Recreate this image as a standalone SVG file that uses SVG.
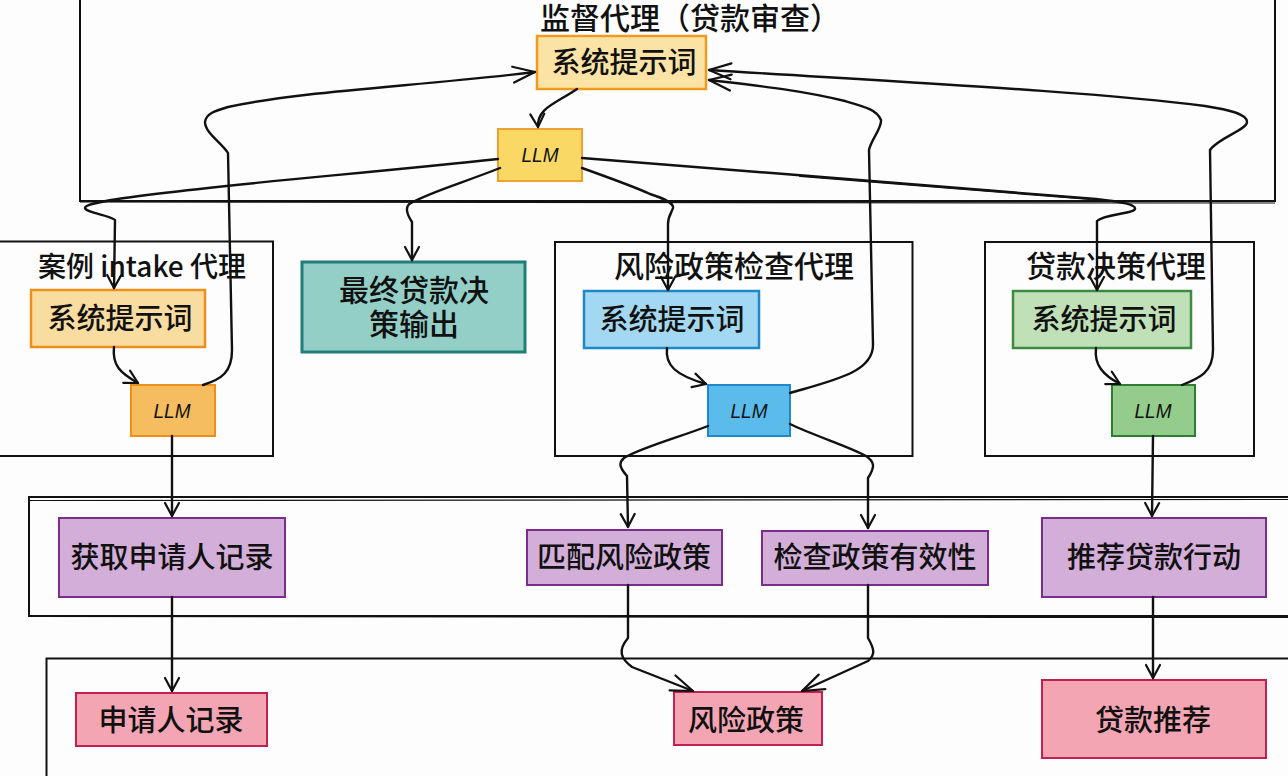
<svg xmlns="http://www.w3.org/2000/svg" width="1288" height="776" viewBox="0 0 1288 776">
<style>
text{font-family:"Noto Sans CJK SC","Noto Sans",sans-serif;fill:#111;text-anchor:middle;font-weight:500}
.t{font-size:29px}
.s{font-size:28px}
.h{font-size:30px}
.l{font-family:"Liberation Sans",sans-serif;font-size:21px;font-style:italic;font-weight:400}
.box{fill:none;stroke:#111;stroke-width:2}
.thin{fill:none;stroke:#111;stroke-width:1.2}
.c{fill:none;stroke:#111;stroke-width:2.4;stroke-linecap:round;stroke-linejoin:round;marker-end:url(#a)}
.w{marker-end:url(#b)}
.n{fill:none;stroke:#111;stroke-width:2;stroke-linecap:round;stroke-linejoin:round}
.tool{fill:#d2aed8;stroke:#7b2d8e;stroke-width:2}
.out{fill:#f3a5b4;stroke:#c2214f;stroke-width:2}
</style>
<defs>
<marker id="a" markerUnits="userSpaceOnUse" markerWidth="24" markerHeight="24" refX="17" refY="10" orient="auto"><path d="M4 3 L17 10 L4 17" fill="none" stroke="#111" stroke-width="2.200" stroke-linecap="round" stroke-linejoin="round"/></marker>
<marker id="b" markerUnits="userSpaceOnUse" markerWidth="32" markerHeight="24" refX="26" refY="10" orient="auto"><path d="M4 2 L26 10 L4 18" fill="none" stroke="#111" stroke-width="2.200" stroke-linecap="round" stroke-linejoin="round"/></marker>
</defs>
<rect width="1288" height="776" fill="#fdfdfd"/>
<g id="containers">
<path class="box" d="M80 -2 V201 H1275 V-2"/>
<path class="thin" d="M80 202 L1275 203"/>
<path class="box" d="M-2 241.500 H273 V456 H-2"/>
<path class="box" d="M555 456 V242 H912.500 V456 Z"/>
<path class="box" d="M985 456 V242 H1254 V456 Z"/>
<path class="box" d="M1290 497 H29 V616 H1290"/>
<path class="thin" d="M29 500.500 L1288 499.500"/>
<path class="thin" d="M29 616.500 L1288 617.500"/>
<path class="box" d="M46.500 776 V658.500 H1290"/>
</g>
<text class="h" x="690" y="29">监督代理（贷款审查）</text>
<g id="sup-prompt"><rect x="537" y="36" width="169" height="53" fill="#fbe3a5" stroke="#f09a1e" stroke-width="2.500"/><text class="t" x="624" y="73">系统提示词</text></g>
<g id="sup-llm"><rect x="498" y="129" width="84" height="52" fill="#f9d866" stroke="#f0a030" stroke-width="2"/><text class="l" x="540" y="162" textLength="37" lengthAdjust="spacingAndGlyphs">LLM</text></g>
<g id="case-agent"><text class="s" x="142" y="277">案例 intake 代理</text></g>
<g id="case-prompt"><rect x="31" y="290" width="174" height="57" fill="#f9dca0" stroke="#ef8f1a" stroke-width="2.500"/><text class="t" x="120" y="329">系统提示词</text></g>
<g id="case-llm"><rect x="131" y="385" width="84" height="51" fill="#f6bd60" stroke="#ef8f1a" stroke-width="2"/><text class="l" x="172" y="418" textLength="37" lengthAdjust="spacingAndGlyphs">LLM</text></g>
<g id="final"><rect x="302" y="262" width="223" height="90" fill="#93cfc7" stroke="#1f7f78" stroke-width="3"/><text class="h" x="414" y="301">最终贷款决</text><text class="h" x="414" y="335">策输出</text></g>
<g id="risk-agent"><text class="h" x="734" y="277">风险政策检查代理</text></g>
<g id="risk-prompt"><rect x="584" y="291" width="175" height="57" fill="#a3d8f2" stroke="#1e88c8" stroke-width="2.500"/><text class="t" x="672" y="330">系统提示词</text></g>
<g id="risk-llm"><rect x="708" y="385" width="82" height="51" fill="#5bbcec" stroke="#1e88c8" stroke-width="2"/><text class="l" x="749" y="418" textLength="37" lengthAdjust="spacingAndGlyphs">LLM</text></g>
<g id="decision-agent"><text class="h" x="1116" y="277">贷款决策代理</text></g>
<g id="decision-prompt"><rect x="1013" y="291" width="178" height="57" fill="#c0e0b8" stroke="#3d8b40" stroke-width="2.500"/><text class="t" x="1104" y="330">系统提示词</text></g>
<g id="decision-llm"><rect x="1112" y="385" width="83" height="51" fill="#94cc8c" stroke="#2e7d32" stroke-width="2"/><text class="l" x="1153" y="418" textLength="37" lengthAdjust="spacingAndGlyphs">LLM</text></g>
<g id="tool-fetch"><rect class="tool" x="59" y="518" width="226" height="79"/><text class="t" x="172" y="568">获取申请人记录</text></g>
<g id="tool-match"><rect class="tool" x="527" y="530" width="195" height="55"/><text class="t" x="624" y="568">匹配风险政策</text></g>
<g id="tool-check"><rect class="tool" x="762" y="531" width="226" height="54"/><text class="t" x="875" y="568">检查政策有效性</text></g>
<g id="tool-recommend"><rect class="tool" x="1042" y="518" width="224" height="79"/><text class="t" x="1154" y="568">推荐贷款行动</text></g>
<g id="out-applicant"><rect class="out" x="76" y="693" width="191" height="53"/><text class="t" x="171" y="731">申请人记录</text></g>
<g id="out-risk"><rect class="out" x="674" y="692" width="148" height="53"/><text class="t" x="746" y="731">风险政策</text></g>
<g id="out-loan"><rect class="out" x="1042" y="680" width="224" height="78"/><text class="t" x="1153" y="731">贷款推荐</text></g>
<g id="connectors">
<path class="c" d="M577 89 C555 104 537 108 538 127"/>
<path class="c w" d="M203 385 C222 379 232 372 232 350 L228 153 C222 143 205 133 205 122 C206 114 214 111 228 107 C300 91 420 86 535 72"/>
<path class="c w" d="M790 393 C835 380 873 372 873 345 L869 150 C871 140 882 128 881 120 C877 110 866 107 845 101 C800 90 760 86 709 80"/>
<path class="c w" d="M1182 385 C1200 378 1213 372 1213 350 L1210 150 C1218 138 1247 130 1247 122 C1247 114 1230 110 1205 106 C1100 92 900 82 709 70"/>
<path class="c" d="M498 159 C350 175 200 186 111 200 C95 203 85 205 85 208 C86 213 110 215 115 220 L114 288"/>
<path class="c" d="M500 168 C465 182 430 192 411 203 C405 206 406 213 412 222 L412 260"/>
<path class="c" d="M582 168 C610 178 635 187 650 194 C665 199 674 203 673 208 C672 212 668 216 668 224 L668 290"/>
<path class="c" d="M582 158 C750 172 950 186 1096 199 C1125 202 1136 205 1135 209 C1133 214 1104 214 1097 221 L1097 290"/>
<path class="n" d="M800 176 C900 184 1000 192 1090 199"/>
<path class="c" d="M114 347 C112 365 120 373 138 383"/>
<path class="c" d="M667 348 C665 365 675 375 706 384"/>
<path class="c" d="M1096 348 C1094 365 1103 375 1120 384"/>
<path class="c" d="M172 436 L172 516"/>
<path class="c" d="M1153 436 L1152 516"/>
<path class="c" d="M708 426 C680 437 640 448 624 458 C618 463 620 468 627 476 L628 527"/>
<path class="c" d="M790 424 C815 436 850 447 866 456 C875 462 875 467 868 478 L868 528"/>
<path class="c" d="M172 597 L172 691"/>
<path class="c" d="M1153 597 L1153 678"/>
<path class="c w" d="M628 585 L628 638 C618 650 620 658 632 667 L693 691"/>
<path class="c w" d="M868 585 L868 638 C875 650 875 655 868 661 L802 691"/>
</g>
</svg>
